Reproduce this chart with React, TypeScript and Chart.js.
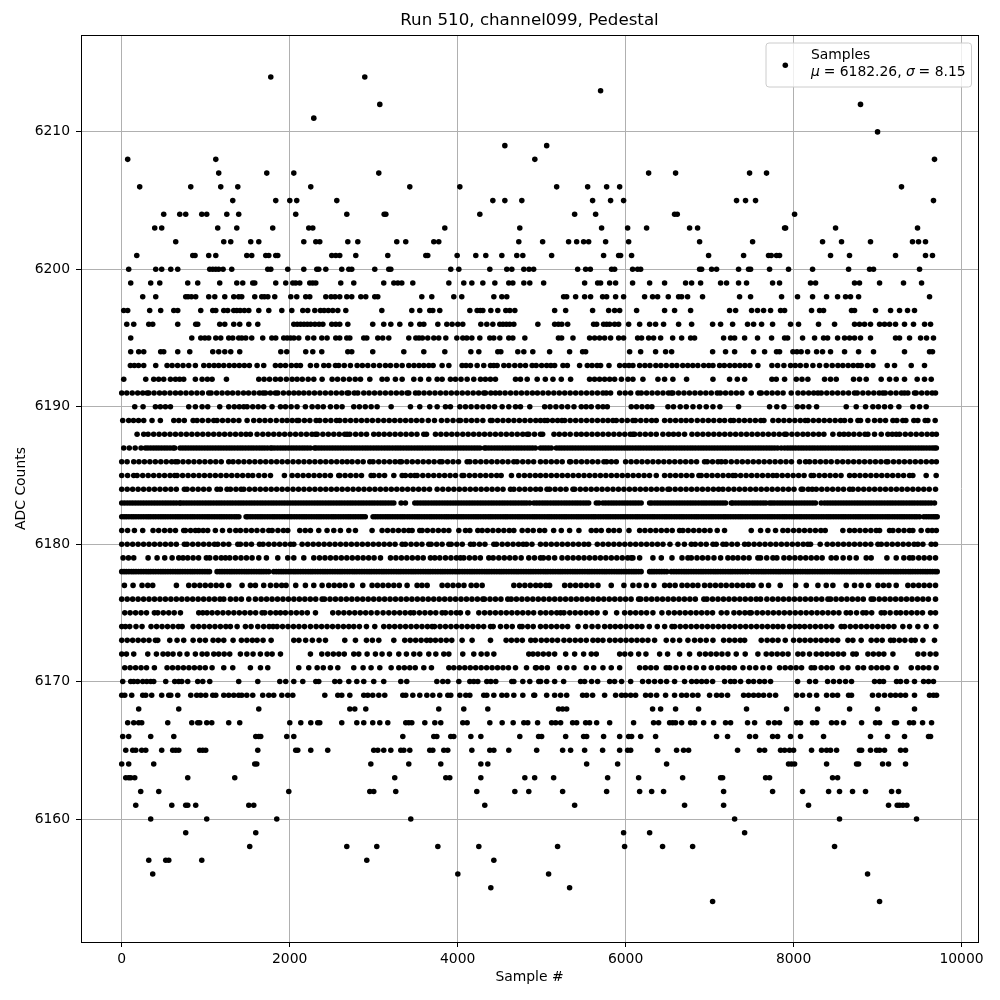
import React, { useEffect, useRef } from "react";
import { Chart, registerables } from "chart.js";

Chart.register(...registerables);

const chartTitle = "Run 510, channel099, Pedestal";
const xLabel = "Sample #";
const yLabel = "ADC Counts";
const legendName = "Samples";
const xTickValues = [0, 2000, 4000, 6000, 8000, 10000];
const yTickValues = [6160, 6170, 6180, 6190, 6200, 6210];

const adc6214 = [1775, 2894];
const adc6213 = [5702];
const adc6212 = [3073, 8797];
const adc6211 = [2287];
const adc6210 = [9000];
const adc6209 = [4562, 5060];
const adc6208 = [71, 1120, 4919, 9678];
const adc6207 = [1155, 1727, 2049, 3061, 6274, 6595, 7476, 7678];
const adc6206 = [214, 822, 1179, 1382, 2251, 3430, 4026, 5179, 5548, 5774, 5929, 9285];
const adc6205 = [1322, 1834, 2001, 2084, 2561, 4419, 4562, 4764, 5607, 5821, 5976, 7321, 7428, 7547, 9666];
const adc6204 = [500, 691, 762, 953, 1012, 1251, 1393, 2072, 2680, 3125, 3145, 4264, 5393, 5643, 6583, 6615, 8012];
const adc6203 = [393, 476, 1143, 1370, 1798, 2227, 2275, 3847, 4740, 5714, 6024, 6250, 6762, 6857, 7893, 7905, 8500, 9476];
const adc6202 = [643, 1215, 1298, 1536, 1632, 2168, 2311, 2358, 2692, 2811, 3275, 3382, 3716, 3775, 4728, 5012, 5321, 5417, 5500, 5560, 5762, 6036, 6881, 7512, 8345, 8571, 8916, 9416, 9488, 9571];
const adc6201 = [179, 846, 873, 1036, 1120, 1489, 1548, 1715, 1751, 1834, 1858, 2501, 2549, 2596, 2787, 3168, 3621, 3644, 3994, 4216, 4335, 4526, 4704, 4776, 5119, 5738, 5917, 5940, 6071, 6988, 7405, 7702, 7734, 7797, 7833, 8440, 8666, 9214, 9571, 9654];
const adc6200 = [83, 405, 476, 584, 667, 1048, 1084, 1120, 1155, 1207, 1310, 1739, 1775, 1977, 2168, 2323, 2346, 2430, 2620, 2704, 2739, 3013, 3180, 3204, 3918, 4014, 4383, 4585, 4645, 4788, 4850, 4905, 5429, 5524, 5580, 5833, 5869, 6083, 6143, 6179, 6881, 6905, 7024, 7083, 7345, 7464, 7488, 7714, 7940, 8226, 8655, 8905, 8952, 9500];
const adc6199 = [107, 345, 453, 786, 905, 1167, 1370, 1441, 1560, 1584, 1834, 1953, 2037, 2072, 2120, 2239, 2275, 2311, 2608, 2763, 3120, 3240, 3288, 3335, 3466, 3895, 4073, 4169, 4300, 4443, 4609, 4657, 4788, 4859, 5024, 5512, 5667, 5702, 5810, 5881, 6083, 6286, 6464, 6714, 6786, 6893, 7131, 7202, 7345, 7440, 7750, 7833, 8202, 8262, 8726, 8785, 9024, 9309, 9524];
const adc6198 = [250, 405, 762, 790, 830, 881, 1036, 1108, 1227, 1334, 1393, 1429, 1584, 1667, 1700, 1740, 1822, 2013, 2084, 2191, 2239, 2430, 2493, 2540, 2596, 2680, 2739, 2847, 2906, 3013, 3049, 3573, 3692, 3954, 4049, 4431, 4526, 4585, 5262, 5298, 5405, 5512, 5583, 5726, 5774, 5881, 5976, 6226, 6321, 6381, 6508, 6631, 6667, 6738, 6916, 7357, 7488, 7857, 8047, 8226, 8393, 8524, 8619, 8678, 8774, 9619];
const adc6197 = [24, 71, 333, 464, 620, 667, 941, 1084, 1120, 1215, 1262, 1334, 1370, 1410, 1460, 1513, 1632, 1751, 1906, 2025, 2156, 2215, 2299, 2366, 2410, 2460, 2513, 2573, 2668, 3097, 3454, 3549, 3668, 3704, 3787, 4145, 4232, 4270, 4300, 4395, 4478, 4573, 4621, 4681, 5155, 5286, 5607, 5798, 5869, 5929, 6131, 6464, 6583, 6774, 7238, 7310, 7500, 7571, 7643, 7726, 7845, 7893, 8214, 8310, 8357, 8690, 8726, 8976, 9155, 9262, 9357, 9440];
const adc6196 = [60, 143, 322, 369, 667, 881, 905, 1167, 1227, 1334, 1405, 1513, 1620, 2049, 2090, 2130, 2170, 2210, 2250, 2300, 2350, 2395, 2501, 2549, 2596, 2692, 2989, 3120, 3204, 3311, 3442, 3549, 3597, 3764, 3871, 3934, 4002, 4061, 4276, 4347, 4419, 4502, 4540, 4580, 4620, 4669, 4955, 5155, 5200, 5240, 5310, 5619, 5655, 5738, 5774, 5810, 5869, 5917, 6036, 6167, 6286, 6357, 6452, 6631, 6786, 7036, 7131, 7274, 7452, 7524, 7619, 7750, 7964, 8059, 8297, 8488, 8726, 8785, 8845, 8916, 9024, 9083, 9143, 9214, 9321, 9428, 9560, 9631];
const adc6195 = [107, 834, 941, 990, 1036, 1120, 1179, 1274, 1322, 1393, 1430, 1477, 1548, 1679, 1787, 1834, 1929, 1970, 2010, 2050, 2108, 2215, 2287, 2382, 2445, 2549, 2596, 2680, 2716, 2882, 2918, 3049, 3108, 3180, 3418, 3502, 3540, 3580, 3644, 3716, 3775, 3859, 3990, 4061, 4109, 4169, 4264, 4383, 4430, 4502, 4609, 4657, 4800, 5200, 5238, 5373, 5571, 5631, 5690, 5750, 5821, 5917, 5976, 6143, 6190, 6274, 6333, 6417, 6560, 6667, 6774, 6821, 7167, 7250, 7298, 7417, 7571, 7738, 7893, 7929, 8107, 8250, 8357, 8405, 8524, 8607, 8667, 8726, 8797, 8916, 9214, 9262, 9381, 9512, 9583, 9666];
const adc6194 = [107, 202, 262, 464, 500, 667, 810, 1084, 1155, 1227, 1298, 1405, 1894, 1965, 2191, 2275, 2382, 2692, 2739, 2989, 3359, 3597, 3847, 4157, 4252, 4478, 4514, 4716, 4788, 4895, 5095, 5333, 5488, 5524, 6048, 6179, 6357, 6476, 6548, 7036, 7190, 7298, 7524, 7655, 7797, 7833, 7992, 8040, 8090, 8167, 8274, 8345, 8440, 8607, 8774, 8952, 9321, 9619, 9654];
const adc6193 = [103, 150, 200, 262, 405, 540, 600, 665, 730, 798, 877, 977, 1040, 1100, 1155, 1215, 1280, 1340, 1400, 1460, 1520, 1612, 1691, 1830, 1890, 1950, 2020, 2080, 2128, 2247, 2320, 2406, 2465, 2545, 2584, 2650, 2723, 2803, 2865, 2930, 3000, 3070, 3140, 3200, 3270, 3339, 3418, 3480, 3540, 3597, 3656, 3708, 3815, 3895, 4053, 4100, 4153, 4232, 4311, 4391, 4430, 4470, 4550, 4610, 4680, 4745, 4808, 4887, 4935, 5000, 5060, 5110, 5155, 5254, 5306, 5452, 5544, 5600, 5660, 5702, 5802, 5929, 5990, 6040, 6087, 6167, 6230, 6290, 6360, 6420, 6484, 6552, 6610, 6680, 6740, 6800, 6860, 6930, 6990, 7040, 7119, 7175, 7240, 7300, 7360, 7420, 7480, 7575, 7742, 7810, 7885, 7964, 8020, 8080, 8150, 8230, 8309, 8389, 8460, 8528, 8587, 8650, 8710, 8766, 8805, 8880, 8944, 9115, 9202, 9401, 9559];
const adc6192 = [24, 286, 381, 440, 500, 580, 640, 690, 738, 877, 957, 1020, 1076, 1247, 1632, 1695, 1760, 1830, 1890, 1960, 2029, 2088, 2150, 2220, 2287, 2386, 2505, 2570, 2640, 2710, 2780, 2843, 2954, 3100, 3160, 3259, 3339, 3478, 3557, 3656, 3756, 3815, 3914, 3974, 4040, 4113, 4192, 4272, 4330, 4390, 4450, 4689, 4748, 4828, 4947, 5044, 5135, 5234, 5345, 5571, 5630, 5690, 5750, 5810, 5869, 5950, 6028, 6087, 6206, 6385, 6464, 6563, 6726, 7040, 7238, 7330, 7417, 7742, 7794, 7893, 8032, 8100, 8170, 8369, 8440, 8508, 8714, 8785, 8865, 9043, 9143, 9222, 9321, 9472, 9559, 9639];
const adc6191 = [0, 60, 125, 190, 250, 302, 322, 385, 450, 510, 575, 640, 700, 765, 830, 895, 960, 1036, 1064, 1130, 1195, 1260, 1320, 1385, 1450, 1510, 1575, 1640, 1683, 1711, 1770, 1830, 1858, 1925, 1990, 2050, 2108, 2168, 2230, 2295, 2360, 2425, 2490, 2555, 2620, 2684, 2704, 2770, 2811, 2882, 2945, 3010, 3075, 3140, 3205, 3270, 3335, 3398, 3418, 3498, 3537, 3600, 3665, 3730, 3795, 3860, 3925, 3990, 4055, 4120, 4185, 4250, 4311, 4331, 4395, 4450, 4502, 4565, 4630, 4695, 4760, 4825, 4890, 4950, 5015, 5080, 5145, 5210, 5275, 5340, 5405, 5470, 5535, 5600, 5665, 5730, 5770, 5821, 5929, 5995, 6060, 6147, 6186, 6250, 6315, 6380, 6445, 6510, 6544, 6563, 6630, 6695, 6760, 6825, 6890, 6955, 7020, 7091, 7127, 7190, 7255, 7320, 7385, 7496, 7595, 7615, 7680, 7745, 7810, 7875, 7972, 8052, 8115, 8180, 8240, 8290, 8329, 8395, 8460, 8525, 8590, 8655, 8726, 8758, 8825, 8890, 8955, 9020, 9063, 9091, 9155, 9220, 9285, 9321, 9361, 9440, 9460, 9525, 9590, 9650, 9690];
const adc6190 = [155, 254, 401, 460, 520, 580, 798, 877, 957, 1024, 1167, 1274, 1340, 1400, 1453, 1493, 1560, 1625, 1690, 1790, 1890, 1950, 2017, 2088, 2187, 2267, 2335, 2400, 2485, 2557, 2624, 2763, 2830, 2900, 2970, 3041, 3208, 3438, 3549, 3668, 3756, 3855, 3914, 4026, 4093, 4160, 4230, 4300, 4370, 4440, 4530, 4609, 4689, 4748, 4859, 5036, 5100, 5170, 5240, 5310, 5385, 5472, 5530, 5591, 5671, 5730, 5782, 6067, 6130, 6195, 6260, 6313, 6504, 6570, 6650, 6722, 6802, 6880, 6960, 7040, 7123, 7345, 7714, 7800, 7885, 8044, 8110, 8182, 8274, 8627, 8746, 8857, 8944, 9010, 9083, 9155, 9254, 9420, 9500, 9579];
const adc6189 = [12, 83, 140, 200, 262, 361, 460, 620, 680, 745, 850, 897, 960, 1030, 1096, 1135, 1200, 1265, 1330, 1395, 1493, 1572, 1640, 1705, 1770, 1840, 1910, 1969, 2030, 2088, 2108, 2175, 2240, 2315, 2358, 2425, 2490, 2557, 2596, 2660, 2725, 2790, 2855, 2920, 2985, 3053, 3120, 3185, 3250, 3315, 3380, 3445, 3510, 3575, 3650, 3724, 3807, 3875, 3945, 4014, 4033, 4100, 4165, 4230, 4300, 4391, 4411, 4475, 4540, 4605, 4670, 4735, 4800, 4865, 4930, 4986, 5036, 5068, 5130, 5190, 5242, 5274, 5340, 5405, 5470, 5535, 5600, 5665, 5730, 5790, 5849, 5889, 5955, 6020, 6087, 6115, 6180, 6245, 6310, 6365, 6464, 6530, 6595, 6660, 6720, 6782, 6853, 6920, 6985, 7050, 7119, 7179, 7250, 7286, 7350, 7415, 7480, 7545, 7610, 7647, 7754, 7820, 7885, 7950, 8015, 8080, 8139, 8170, 8235, 8300, 8365, 8430, 8495, 8560, 8607, 8678, 8766, 8797, 8885, 8964, 9030, 9095, 9183, 9230, 9301, 9337, 9432, 9480, 9567, 9599, 9686];
const adc6188 = [183, 262, 314, 380, 445, 510, 575, 640, 705, 770, 835, 900, 965, 1030, 1095, 1160, 1225, 1290, 1355, 1420, 1480, 1532, 1612, 1680, 1745, 1810, 1875, 1940, 2005, 2070, 2135, 2200, 2265, 2307, 2327, 2395, 2460, 2525, 2590, 2655, 2684, 2716, 2785, 2850, 2915, 3001, 3061, 3125, 3190, 3255, 3320, 3385, 3450, 3515, 3597, 3629, 3736, 3800, 3865, 3930, 3994, 4061, 4125, 4190, 4255, 4320, 4385, 4450, 4515, 4580, 4645, 4710, 4775, 4828, 4847, 4915, 4986, 5012, 5147, 5210, 5275, 5340, 5413, 5472, 5535, 5600, 5665, 5730, 5795, 5860, 5925, 5990, 6055, 6087, 6107, 6170, 6235, 6300, 6365, 6444, 6512, 6570, 6631, 6702, 6790, 6855, 6920, 6985, 7050, 7115, 7180, 7245, 7310, 7375, 7440, 7505, 7570, 7635, 7700, 7765, 7830, 7893, 7913, 7980, 8045, 8111, 8170, 8235, 8300, 8361, 8468, 8547, 8600, 8655, 8718, 8785, 8850, 8885, 8964, 9044, 9123, 9175, 9222, 9262, 9330, 9395, 9460, 9525, 9590, 9650, 9700];
const adc6187 = [24, 90, 160, 230, 282, 345, 410, 475, 540, 611, 631, 695, 760, 825, 890, 955, 1020, 1085, 1150, 1215, 1280, 1345, 1410, 1475, 1540, 1605, 1670, 1735, 1771, 1791, 1855, 1920, 1985, 2050, 2115, 2180, 2245, 2295, 2315, 2380, 2445, 2510, 2575, 2640, 2705, 2770, 2835, 2900, 2965, 3030, 3095, 3160, 3225, 3290, 3355, 3420, 3485, 3550, 3615, 3680, 3745, 3810, 3875, 3940, 4005, 4070, 4135, 4200, 4265, 4319, 4339, 4405, 4470, 4535, 4600, 4665, 4730, 4795, 4860, 4925, 4986, 5050, 5115, 5175, 5240, 5305, 5370, 5435, 5500, 5565, 5630, 5695, 5760, 5825, 5890, 5955, 6020, 6085, 6150, 6215, 6280, 6345, 6410, 6475, 6540, 6605, 6670, 6735, 6800, 6865, 6930, 6995, 7060, 7125, 7190, 7255, 7320, 7385, 7450, 7515, 7580, 7645, 7710, 7775, 7853, 7893, 7960, 8025, 8090, 8155, 8220, 8285, 8350, 8415, 8480, 8545, 8610, 8675, 8740, 8805, 8870, 8935, 9000, 9065, 9130, 9195, 9260, 9325, 9390, 9455, 9520, 9585, 9650, 9700];
const adc6187more = [312, 378, 442, 508, 575, 728, 792, 858, 922, 988, 1052, 1118, 1182, 1248, 1312, 1378, 1442, 1508, 1572, 1638, 1702, 1822, 1888, 1952, 2018, 2082, 2148, 2212, 2348, 2412, 2478, 2542, 2608, 2672, 2738, 2802, 2868, 2932, 2998, 3062, 3128, 3192, 3258, 3322, 3388, 3452, 3518, 3582, 3648, 3712, 3778, 3842, 3908, 3972, 4038, 4102, 4168, 4232, 4372, 4438, 4502, 4568, 4632, 4698, 4762, 4828, 4892, 5018, 5082, 5208, 5272, 5338, 5402, 5468, 5532, 5598, 5662, 5728, 5792, 5858, 5922, 5988, 6052, 6118, 6182, 6248, 6312, 6378, 6442, 6508, 6572, 6638, 6702, 6768, 6832, 6898, 6962, 7028, 7092, 7158, 7222, 7288, 7352, 7418, 7482, 7548, 7612, 7678, 7742, 7810, 7928, 7992, 8058, 8122, 8188, 8252, 8318, 8382, 8448, 8512, 8578, 8642, 8708, 8772, 8838, 8902, 8968, 9032, 9098, 9162, 9228, 9292, 9358, 9422, 9488, 9552, 9618, 9678];
const adc6186 = [0, 64, 143, 205, 270, 335, 400, 465, 530, 595, 639, 667, 730, 795, 860, 925, 990, 1055, 1120, 1185, 1274, 1326, 1390, 1455, 1520, 1585, 1650, 1715, 1780, 1845, 1910, 1975, 2040, 2105, 2170, 2235, 2300, 2365, 2430, 2495, 2560, 2625, 2684, 2743, 2810, 2875, 2954, 2993, 3060, 3125, 3190, 3255, 3311, 3331, 3395, 3460, 3525, 3590, 3655, 3720, 3787, 3815, 3880, 3945, 4010, 4113, 4145, 4210, 4275, 4340, 4405, 4470, 4535, 4600, 4669, 4708, 4775, 4840, 4905, 4986, 5050, 5115, 5180, 5245, 5333, 5345, 5410, 5475, 5540, 5605, 5670, 5742, 5774, 5830, 5889, 6000, 6065, 6130, 6195, 6260, 6325, 6390, 6455, 6520, 6585, 6650, 6715, 6780, 6845, 6940, 6972, 7035, 7100, 7139, 7190, 7258, 7325, 7390, 7455, 7520, 7585, 7650, 7715, 7780, 7845, 7910, 7975, 8071, 8143, 8190, 8255, 8320, 8385, 8448, 8520, 8585, 8650, 8715, 8780, 8845, 8910, 8975, 9040, 9103, 9123, 9190, 9255, 9320, 9385, 9450, 9515, 9580, 9645, 9700];
const adc6185 = [0, 70, 143, 183, 250, 315, 380, 445, 510, 575, 631, 659, 725, 790, 855, 920, 985, 1050, 1115, 1180, 1245, 1310, 1375, 1440, 1505, 1560, 1632, 1700, 1771, 1937, 2029, 2095, 2160, 2225, 2290, 2355, 2420, 2485, 2584, 2596, 2660, 2725, 2790, 2855, 2970, 3001, 3065, 3130, 3240, 3339, 3378, 3440, 3490, 3517, 3585, 3650, 3715, 3780, 3845, 3910, 3975, 4053, 4073, 4140, 4205, 4270, 4335, 4400, 4465, 4518, 4641, 4728, 4795, 4860, 4925, 4986, 5050, 5115, 5180, 5245, 5310, 5375, 5440, 5505, 5570, 5635, 5700, 5765, 5830, 5895, 5960, 6025, 6090, 6155, 6220, 6285, 6365, 6464, 6530, 6595, 6660, 6725, 6790, 6873, 6900, 6965, 7030, 7095, 7160, 7225, 7278, 7306, 7370, 7435, 7500, 7565, 7630, 7695, 7754, 7801, 7865, 7930, 7995, 8060, 8125, 8210, 8238, 8305, 8370, 8435, 8500, 8565, 8667, 8726, 8790, 8855, 8920, 8985, 9050, 9115, 9180, 9245, 9310, 9381, 9420, 9579, 9698];
const adc6184 = [0, 65, 130, 195, 260, 325, 390, 455, 520, 585, 650, 746, 778, 845, 910, 975, 1040, 1135, 1175, 1254, 1294, 1360, 1421, 1453, 1520, 1585, 1650, 1715, 1780, 1845, 1910, 1975, 2040, 2105, 2170, 2235, 2300, 2365, 2430, 2495, 2560, 2625, 2690, 2755, 2820, 2885, 2950, 3015, 3080, 3145, 3210, 3275, 3340, 3405, 3470, 3535, 3600, 3665, 3756, 3823, 3890, 3955, 4020, 4085, 4150, 4215, 4280, 4345, 4410, 4475, 4540, 4629, 4669, 4735, 4800, 4865, 4930, 4986, 5064, 5095, 5160, 5225, 5290, 5373, 5393, 5460, 5525, 5590, 5655, 5720, 5785, 5850, 5915, 5980, 6045, 6110, 6175, 6240, 6305, 6370, 6435, 6504, 6524, 6590, 6655, 6720, 6785, 6850, 6915, 6980, 7045, 7107, 7159, 7225, 7290, 7355, 7420, 7485, 7550, 7615, 7680, 7745, 7810, 7875, 7940, 8005, 8091, 8111, 8175, 8222, 8270, 8335, 8400, 8465, 8530, 8595, 8667, 8706, 8770, 8835, 8900, 8965, 9030, 9095, 9160, 9225, 9290, 9355, 9420, 9485, 9550, 9615, 9690];
const adc6183 = [0, 65, 130, 195, 260, 325, 390, 455, 520, 585, 650, 687, 706, 770, 835, 900, 965, 1030, 1095, 1160, 1225, 1290, 1355, 1420, 1485, 1550, 1615, 1680, 1745, 1810, 1875, 1940, 2005, 2070, 2135, 2200, 2265, 2330, 2395, 2460, 2525, 2590, 2655, 2720, 2785, 2850, 2915, 2980, 3045, 3110, 3175, 3240, 3327, 3378, 3490, 3555, 3620, 3685, 3750, 3815, 3880, 3945, 4010, 4075, 4140, 4205, 4270, 4335, 4400, 4465, 4530, 4595, 4660, 4725, 4790, 4859, 4909, 4975, 5040, 5105, 5170, 5235, 5300, 5365, 5430, 5495, 5560, 5651, 5683, 5730, 5795, 5860, 5925, 5990, 6055, 6120, 6185, 6286, 6313, 6380, 6445, 6510, 6575, 6640, 6705, 6770, 6835, 6901, 6932, 6995, 7060, 7125, 7190, 7258, 7278, 7345, 7410, 7475, 7540, 7605, 7670, 7714, 7742, 7805, 7870, 7935, 8000, 8065, 8130, 8195, 8260, 8329, 8369, 8435, 8500, 8565, 8630, 8695, 8760, 8825, 8890, 8955, 9020, 9085, 9150, 9215, 9280, 9345, 9410, 9475, 9540, 9605, 9678];
const adc6183more = [32, 98, 162, 228, 292, 358, 422, 488, 552, 618, 738, 802, 868, 932, 998, 1062, 1128, 1192, 1258, 1322, 1388, 1452, 1518, 1582, 1648, 1712, 1778, 1842, 1908, 1972, 2038, 2102, 2168, 2232, 2298, 2362, 2428, 2492, 2558, 2622, 2688, 2752, 2818, 2882, 2948, 3012, 3078, 3142, 3208, 3522, 3588, 3652, 3718, 3782, 3848, 3912, 3978, 4042, 4108, 4172, 4238, 4302, 4368, 4432, 4498, 4562, 4628, 4692, 4758, 4822, 4942, 5008, 5072, 5138, 5202, 5268, 5332, 5398, 5462, 5528, 5762, 5828, 5892, 5958, 6022, 6088, 6152, 6348, 6412, 6478, 6542, 6608, 6672, 6738, 6802, 6868, 6962, 7028, 7092, 7158, 7312, 7378, 7442, 7508, 7572, 7638, 7772, 7838, 7902, 7968, 8032, 8098, 8162, 8228, 8402, 8468, 8532, 8598, 8662, 8728, 8792, 8858, 8922, 8988, 9052, 9118, 9182, 9248, 9312, 9378, 9442, 9508, 9572, 9638];
const adc6182 = [0, 55, 115, 170, 230, 290, 345, 405, 465, 520, 580, 640, 695, 755, 815, 870, 930, 990, 1045, 1105, 1165, 1220, 1280, 1340, 1395, 1481, 1501, 1560, 1620, 1675, 1735, 1795, 1850, 1910, 1970, 2025, 2085, 2145, 2200, 2260, 2320, 2375, 2435, 2495, 2550, 2610, 2670, 2725, 2785, 2845, 2900, 2993, 3021, 3080, 3140, 3195, 3255, 3315, 3370, 3430, 3490, 3545, 3605, 3665, 3720, 3780, 3840, 3895, 3955, 4015, 4070, 4130, 4190, 4245, 4305, 4365, 4420, 4480, 4540, 4595, 4655, 4715, 4770, 4830, 4890, 4945, 5005, 5065, 5120, 5180, 5240, 5295, 5355, 5415, 5470, 5530, 5590, 5645, 5705, 5765, 5820, 5880, 5940, 5995, 6055, 6115, 6170, 6230, 6290, 6345, 6405, 6465, 6520, 6580, 6640, 6695, 6755, 6815, 6870, 6930, 6990, 7045, 7105, 7165, 7220, 7280, 7340, 7395, 7455, 7515, 7570, 7630, 7690, 7745, 7805, 7865, 7920, 7980, 8040, 8095, 8155, 8215, 8270, 8330, 8390, 8445, 8505, 8565, 8620, 8680, 8740, 8795, 8855, 8915, 8970, 9030, 9090, 9145, 9205, 9265, 9320, 9380, 9440, 9500, 9551, 9610, 9665, 9710];
const adc6182more = [28, 85, 142, 200, 260, 318, 375, 435, 492, 550, 610, 668, 725, 785, 842, 900, 960, 1018, 1075, 1135, 1192, 1250, 1310, 1368, 1530, 1590, 1648, 1705, 1765, 1822, 1880, 1940, 1998, 2055, 2115, 2172, 2230, 2290, 2348, 2405, 2465, 2522, 2580, 2640, 2698, 2755, 2815, 2872, 3050, 3110, 3168, 3225, 3285, 3342, 3400, 3460, 3518, 3575, 3635, 3692, 3750, 3810, 3868, 3925, 3985, 4042, 4100, 4160, 4218, 4275, 4335, 4392, 4450, 4510, 4568, 4625, 4685, 4742, 4800, 4860, 4918, 4975, 5035, 5092, 5150, 5210, 5268, 5325, 5385, 5442, 5500, 5560, 5618, 5675, 5735, 5792, 5850, 5910, 5968, 6025, 6085, 6142, 6200, 6260, 6318, 6375, 6435, 6492, 6550, 6610, 6668, 6725, 6785, 6842, 6900, 6960, 7018, 7075, 7135, 7192, 7250, 7310, 7368, 7425, 7485, 7542, 7600, 7660, 7718, 7775, 7835, 7892, 7950, 8010, 8068, 8125, 8185, 8242, 8300, 8360, 8418, 8475, 8535, 8592, 8650, 8710, 8768, 8825, 8885, 8942, 9000, 9060, 9118, 9175, 9235, 9292, 9350, 9410, 9468, 9580, 9638, 9688];
const adc6181 = [0, 70, 151, 250, 373, 440, 510, 575, 640, 738, 758, 820, 877, 917, 970, 1024, 1115, 1200, 1286, 1358, 1413, 1480, 1545, 1610, 1680, 1751, 1791, 1860, 1925, 1977, 2120, 2185, 2247, 2346, 2445, 2525, 2604, 2704, 2783, 2981, 3100, 3165, 3230, 3295, 3360, 3418, 3458, 3549, 3577, 3640, 3705, 3770, 3835, 3895, 4014, 4093, 4145, 4240, 4292, 4355, 4420, 4485, 4550, 4615, 4669, 4768, 4835, 4900, 4976, 5036, 5143, 5234, 5333, 5444, 5591, 5650, 5710, 5798, 5860, 5925, 6040, 6167, 6230, 6295, 6360, 6425, 6490, 6555, 6643, 6682, 6745, 6810, 6875, 6940, 7005, 7091, 7178, 7496, 7607, 7694, 7785, 7873, 7932, 8000, 8065, 8130, 8195, 8260, 8325, 8377, 8587, 8667, 8726, 8790, 8855, 8920, 8984, 9024, 9143, 9183, 9250, 9315, 9380, 9420, 9519, 9599, 9650, 9700];
const adc6180 = [0, 65, 130, 195, 260, 325, 390, 455, 520, 585, 650, 746, 778, 845, 910, 975, 1040, 1104, 1143, 1210, 1275, 1382, 1413, 1480, 1545, 1640, 1683, 1750, 1815, 1880, 1945, 2009, 2049, 2148, 2215, 2280, 2345, 2410, 2475, 2540, 2605, 2670, 2735, 2800, 2865, 2930, 2995, 3060, 3125, 3190, 3255, 3339, 3378, 3445, 3510, 3575, 3656, 3684, 3750, 3815, 3895, 3923, 3990, 4055, 4153, 4192, 4260, 4325, 4431, 4462, 4530, 4595, 4660, 4725, 4780, 4820, 4885, 4986, 5050, 5115, 5180, 5245, 5310, 5375, 5440, 5505, 5560, 5663, 5730, 5795, 5860, 5925, 5990, 6055, 6120, 6185, 6250, 6315, 6380, 6445, 6528, 6623, 6700, 6782, 6829, 6895, 6960, 7040, 7079, 7159, 7198, 7265, 7330, 7417, 7464, 7530, 7595, 7660, 7725, 7790, 7855, 7920, 7985, 8050, 8115, 8170, 8202, 8317, 8400, 8465, 8530, 8595, 8660, 8725, 8790, 8855, 8920, 9004, 9044, 9110, 9175, 9240, 9305, 9370, 9435, 9480, 9540, 9639, 9690];
const adc6179 = [16, 80, 143, 314, 421, 512, 600, 679, 730, 786, 850, 915, 1008, 1048, 1120, 1185, 1235, 1286, 1354, 1420, 1485, 1552, 1632, 1723, 1858, 1977, 2049, 2168, 2287, 2355, 2420, 2485, 2550, 2615, 2680, 2745, 2810, 2875, 2940, 3005, 3081, 3200, 3265, 3330, 3395, 3460, 3525, 3590, 3676, 3728, 3787, 3855, 3920, 3985, 4033, 4073, 4140, 4205, 4270, 4371, 4423, 4490, 4555, 4620, 4685, 4756, 4847, 4915, 4986, 5020, 5083, 5155, 5242, 5310, 5375, 5440, 5505, 5570, 5635, 5700, 5765, 5830, 5895, 5960, 6025, 6067, 6087, 6167, 6325, 6425, 6552, 6671, 6742, 6782, 6850, 6915, 6980, 7052, 7131, 7218, 7278, 7337, 7405, 7470, 7575, 7607, 7680, 7754, 7801, 7885, 7950, 8015, 8080, 8145, 8210, 8275, 8340, 8448, 8508, 8590, 8667, 8746, 8865, 8924, 9111, 9222, 9313, 9381, 9420, 9490, 9555, 9620, 9690];
const adc6178 = [0, 55, 115, 170, 230, 290, 345, 405, 465, 520, 580, 640, 695, 755, 815, 870, 930, 990, 1045, 1135, 1167, 1225, 1285, 1340, 1400, 1460, 1515, 1575, 1635, 1690, 1751, 1810, 1870, 1925, 1985, 2045, 2100, 2160, 2220, 2275, 2335, 2395, 2450, 2510, 2570, 2625, 2685, 2745, 2800, 2860, 2920, 2975, 3035, 3095, 3150, 3210, 3270, 3325, 3385, 3445, 3500, 3560, 3620, 3675, 3735, 3795, 3850, 3910, 3970, 4025, 4085, 4145, 4200, 4260, 4320, 4375, 4435, 4495, 4550, 4610, 4670, 4725, 4785, 4845, 4900, 4960, 5020, 5075, 5135, 5195, 5250, 5310, 5370, 5425, 5485, 5545, 5600, 5660, 5720, 5775, 5835, 5895, 5950, 6010, 6070, 6125, 6185, 6286, 6313, 6370, 6430, 6490, 6544, 6575, 6635, 6695, 6750, 6810, 6870, 6925, 6985, 7045, 7100, 7160, 7220, 7275, 7335, 7395, 7456, 7496, 7555, 7615, 7670, 7730, 7790, 7845, 7905, 7965, 8020, 8080, 8140, 8195, 8255, 8315, 8370, 8430, 8490, 8545, 8605, 8665, 8720, 8780, 8840, 8895, 8955, 9015, 9070, 9130, 9190, 9245, 9305, 9365, 9420, 9480, 9540, 9595, 9655, 9710];
const adc6178more = [28, 85, 142, 200, 260, 318, 375, 435, 492, 550, 610, 668, 725, 785, 842, 900, 960, 1018, 1195, 1255, 1312, 1370, 1430, 1488, 1545, 1605, 1662, 1720, 1840, 1898, 1955, 2015, 2072, 2130, 2190, 2248, 2305, 2365, 2422, 2480, 2540, 2598, 2655, 2715, 2772, 2830, 2890, 2948, 3005, 3065, 3122, 3180, 3240, 3298, 3355, 3415, 3472, 3530, 3590, 3648, 3705, 3765, 3822, 3880, 3940, 3998, 4055, 4115, 4172, 4230, 4290, 4348, 4405, 4465, 4522, 4580, 4640, 4698, 4755, 4815, 4872, 4930, 4990, 5048, 5105, 5165, 5222, 5280, 5340, 5398, 5455, 5515, 5572, 5630, 5690, 5748, 5805, 5865, 5922, 5980, 6040, 6098, 6155, 6340, 6400, 6460, 6605, 6665, 6722, 6780, 6840, 6898, 6955, 7015, 7072, 7130, 7190, 7248, 7305, 7365, 7425, 7525, 7585, 7642, 7700, 7760, 7818, 7875, 7935, 7992, 8050, 8110, 8168, 8225, 8285, 8342, 8400, 8460, 8518, 8575, 8635, 8692, 8750, 8810, 8868, 8925, 8985, 9042, 9100, 9160, 9218, 9275, 9335, 9392, 9450, 9510, 9568, 9625, 9685];
const adc6177 = [32, 135, 242, 310, 369, 651, 798, 865, 930, 995, 1060, 1125, 1190, 1274, 1433, 1532, 1592, 1691, 1771, 1840, 1905, 1957, 2072, 2187, 2287, 2386, 2465, 2530, 2595, 2660, 2743, 2870, 2981, 3045, 3110, 3175, 3240, 3305, 3398, 3517, 3575, 3637, 3815, 3880, 3945, 4010, 4075, 4161, 4224, 4292, 4669, 4735, 4800, 4865, 4930, 4986, 5050, 5095, 5274, 5340, 5405, 5470, 5535, 5600, 5671, 5829, 5980, 6087, 6160, 6246, 6337, 6464, 6525, 6590, 6671, 6734, 6800, 6861, 6940, 7005, 7070, 7135, 7198, 7266, 7330, 7395, 7460, 7516, 7615, 7702, 7841, 8024, 8151, 8290, 8389, 8468, 8627, 8726, 8805, 8893, 9004, 9070, 9135, 9222, 9361, 9425, 9490, 9555, 9620, 9690];
const adc6176 = [0, 65, 130, 195, 260, 325, 390, 455, 520, 585, 650, 715, 780, 845, 910, 975, 1040, 1105, 1170, 1215, 1294, 1360, 1425, 1513, 1592, 1660, 1725, 1790, 1855, 1920, 1985, 2050, 2115, 2180, 2245, 2310, 2386, 2414, 2480, 2545, 2610, 2675, 2740, 2805, 2870, 2935, 3000, 3065, 3130, 3195, 3260, 3325, 3390, 3455, 3520, 3585, 3650, 3715, 3780, 3845, 3910, 3975, 4040, 4105, 4170, 4235, 4300, 4319, 4385, 4450, 4515, 4597, 4637, 4700, 4765, 4830, 4895, 4960, 5025, 5090, 5155, 5220, 5285, 5350, 5415, 5480, 5545, 5610, 5675, 5740, 5805, 5870, 5935, 6000, 6065, 6155, 6179, 6245, 6310, 6375, 6440, 6505, 6570, 6635, 6700, 6765, 6830, 6932, 6968, 7035, 7100, 7165, 7230, 7295, 7360, 7425, 7490, 7555, 7607, 7682, 7750, 7815, 7880, 7945, 8010, 8075, 8140, 8205, 8270, 8335, 8409, 8440, 8505, 8570, 8635, 8700, 8765, 8830, 8924, 8952, 9020, 9085, 9150, 9215, 9280, 9345, 9410, 9475, 9540, 9605, 9690];
const adc6175 = [36, 100, 165, 230, 295, 389, 429, 495, 560, 625, 699, 917, 965, 1016, 1076, 1140, 1205, 1270, 1335, 1400, 1465, 1530, 1595, 1671, 1703, 1770, 1835, 1890, 1949, 2015, 2080, 2145, 2210, 2307, 2513, 2580, 2645, 2710, 2775, 2840, 2905, 2970, 3041, 3112, 3180, 3245, 3310, 3375, 3438, 3478, 3545, 3610, 3675, 3740, 3815, 3855, 3920, 3985, 4033, 4121, 4252, 4320, 4385, 4450, 4515, 4580, 4645, 4710, 4775, 4840, 4905, 4986, 5050, 5115, 5180, 5226, 5266, 5335, 5400, 5465, 5530, 5595, 5660, 5758, 5893, 5988, 6055, 6120, 6185, 6250, 6325, 6432, 6512, 6580, 6645, 6710, 6775, 6840, 6905, 6970, 7035, 7139, 7206, 7290, 7355, 7420, 7476, 7496, 7565, 7630, 7695, 7760, 7825, 7890, 7955, 8020, 8085, 8150, 8215, 8280, 8345, 8410, 8475, 8540, 8627, 8678, 8750, 8825, 8865, 8930, 9044, 9083, 9150, 9222, 9274, 9340, 9405, 9470, 9535, 9631, 9690];
const adc6174 = [0, 44, 95, 170, 242, 349, 415, 480, 545, 610, 675, 719, 850, 915, 980, 1045, 1110, 1175, 1240, 1294, 1374, 1473, 1540, 1620, 1690, 1755, 1802, 1850, 1915, 1980, 2045, 2110, 2176, 2247, 2315, 2380, 2445, 2510, 2575, 2640, 2704, 2763, 2830, 2914, 3013, 3120, 3185, 3250, 3315, 3380, 3445, 3510, 3575, 3640, 3696, 3724, 3790, 3855, 3920, 3985, 4050, 4115, 4180, 4245, 4310, 4391, 4423, 4510, 4581, 4650, 4740, 4768, 4835, 4900, 4986, 5050, 5115, 5180, 5245, 5310, 5433, 5524, 5600, 5671, 5750, 5815, 5877, 5940, 6005, 6070, 6135, 6194, 6282, 6377, 6465, 6552, 6583, 6650, 6715, 6780, 6845, 6910, 6975, 7040, 7105, 7170, 7235, 7300, 7365, 7430, 7495, 7560, 7625, 7690, 7755, 7813, 7873, 7952, 8015, 8071, 8131, 8195, 8260, 8325, 8390, 8455, 8567, 8607, 8675, 8740, 8805, 8870, 8935, 9000, 9065, 9130, 9195, 9301, 9381, 9480, 9579, 9695];
const adc6173 = [0, 65, 130, 195, 260, 325, 401, 429, 572, 659, 738, 850, 929, 996, 1088, 1150, 1215, 1326, 1425, 1490, 1555, 1612, 1683, 1779, 2049, 2110, 2190, 2270, 2350, 2426, 2656, 2783, 2914, 2985, 3061, 3240, 3370, 3435, 3500, 3565, 3630, 3676, 3736, 3800, 3865, 3930, 4053, 4172, 4391, 4577, 4640, 4705, 4770, 4871, 4925, 4996, 5060, 5125, 5190, 5266, 5333, 5400, 5465, 5532, 5611, 5670, 5730, 5810, 5875, 5940, 6005, 6070, 6135, 6200, 6266, 6345, 6484, 6563, 6643, 6742, 6821, 6890, 6960, 7040, 7167, 7235, 7300, 7365, 7417, 7615, 7685, 7750, 7815, 7901, 8000, 8071, 8135, 8200, 8265, 8330, 8395, 8460, 8525, 8647, 8706, 8805, 8924, 8990, 9055, 9155, 9194, 9260, 9325, 9401, 9448, 9540, 9678];
const adc6172 = [0, 56, 143, 310, 413, 492, 550, 611, 691, 778, 877, 957, 1016, 1096, 1155, 1220, 1286, 1413, 1490, 1564, 1651, 1731, 1791, 1890, 2247, 2382, 2453, 2520, 2585, 2650, 2763, 2823, 2922, 3021, 3100, 3188, 3299, 3390, 3478, 3549, 3656, 3740, 3835, 3895, 4061, 4192, 4280, 4350, 4431, 4847, 4897, 4956, 5020, 5085, 5155, 5286, 5393, 5500, 5591, 5651, 5929, 5990, 6060, 6155, 6242, 6405, 6500, 6643, 6762, 6881, 6950, 7015, 7080, 7147, 7218, 7317, 7424, 7575, 7674, 7740, 7805, 7870, 7935, 8051, 8111, 8190, 8270, 8335, 8400, 8465, 8530, 8595, 8706, 8746, 8885, 8950, 9015, 9075, 9183, 9480, 9550, 9627, 9695];
const adc6171 = [36, 100, 165, 230, 295, 389, 540, 605, 670, 735, 800, 865, 930, 995, 1076, 1215, 1322, 1532, 1652, 1739, 2108, 2227, 2327, 2400, 2485, 2573, 2763, 2874, 2969, 3073, 3208, 3299, 3365, 3430, 3495, 3597, 3688, 3895, 3954, 4020, 4085, 4150, 4215, 4280, 4345, 4410, 4475, 4540, 4605, 4689, 4820, 4927, 4937, 5000, 5068, 5214, 5300, 5385, 5532, 5620, 5730, 5829, 5929, 6167, 6235, 6300, 6365, 6484, 6524, 6600, 6680, 6762, 6841, 6930, 7020, 7099, 7165, 7230, 7295, 7397, 7476, 7550, 7635, 7714, 7833, 7900, 7965, 8030, 8095, 8210, 8250, 8329, 8395, 8460, 8579, 8647, 8766, 8833, 8924, 8990, 9055, 9120, 9222, 9401, 9480, 9545, 9610, 9698];
const adc6170 = [12, 107, 143, 190, 250, 298, 345, 381, 524, 631, 679, 715, 786, 905, 965, 1048, 1393, 1620, 1882, 1953, 2049, 2156, 2311, 2346, 2537, 2596, 2704, 2799, 2882, 3001, 3120, 3323, 3394, 3752, 3823, 3883, 4014, 4145, 4192, 4240, 4347, 4395, 4454, 4645, 4669, 4776, 4859, 4966, 4988, 5060, 5155, 5262, 5464, 5512, 5595, 5667, 5810, 5869, 5952, 6060, 6202, 6274, 6345, 6417, 6488, 6583, 6702, 6786, 6845, 6905, 6964, 7036, 7179, 7250, 7298, 7369, 7464, 7524, 7595, 7655, 7726, 8048, 8190, 8262, 8405, 8476, 8547, 8619, 8690, 8964, 9024, 9071, 9226, 9274, 9345, 9440, 9548, 9607, 9666];
const adc6169 = [0, 36, 119, 250, 286, 357, 476, 560, 584, 667, 822, 893, 941, 1000, 1084, 1120, 1215, 1274, 1334, 1393, 1429, 1489, 1560, 1679, 1751, 1810, 1906, 1977, 2037, 2418, 2573, 2620, 2716, 2882, 2930, 2989, 3061, 3132, 3347, 3382, 3466, 3549, 3633, 3704, 3787, 3883, 3918, 4026, 4097, 4145, 4311, 4347, 4431, 4526, 4585, 4669, 4776, 4907, 4917, 5060, 5155, 5226, 5298, 5488, 5536, 5607, 5750, 5881, 5952, 6000, 6060, 6119, 6238, 6298, 6369, 6476, 6583, 6667, 6726, 6798, 6861, 7000, 7083, 7143, 7214, 7405, 7464, 7524, 7583, 7643, 7714, 7786, 8036, 8107, 8190, 8274, 8393, 8464, 8524, 8655, 8690, 8940, 9012, 9083, 9155, 9214, 9274, 9333, 9440, 9619, 9666, 9702];
const adc6168 = [202, 679, 1632, 2716, 2775, 2906, 3775, 4073, 4359, 5202, 5250, 5298, 6321, 6417, 6595, 6869, 7440, 7917, 8286, 8667, 9000, 9440];
const adc6167 = [71, 143, 202, 238, 548, 834, 905, 929, 1012, 1072, 1274, 1405, 2001, 2132, 2251, 2334, 2358, 2620, 2799, 2882, 2989, 3073, 3168, 3382, 3418, 3454, 3609, 3728, 3799, 4061, 4113, 4383, 4530, 4661, 4788, 4835, 4952, 5119, 5167, 5226, 5369, 5417, 5524, 5571, 5655, 5810, 6095, 6333, 6393, 6524, 6560, 6595, 6667, 6774, 6821, 6929, 7048, 7190, 7250, 7452, 7536, 7702, 7774, 7833, 8036, 8083, 8226, 8274, 8452, 8512, 8595, 8810, 8976, 9024, 9202, 9226, 9381, 9428, 9536, 9643];
const adc6166 = [12, 83, 345, 620, 1596, 1632, 1655, 1965, 2049, 3347, 3716, 3752, 3918, 3954, 4157, 4276, 4740, 4964, 5000, 5286, 5500, 5536, 5738, 5929, 6036, 6071, 6179, 6357, 7083, 7214, 7476, 7547, 7750, 7810, 7964, 8083, 8357, 8916, 9119, 9321, 9607, 9631];
const adc6165 = [48, 131, 167, 238, 286, 476, 607, 643, 679, 929, 965, 1000, 1620, 2072, 2096, 2251, 2453, 3001, 3049, 3120, 3204, 3323, 3359, 3430, 3668, 3704, 3835, 3882, 4169, 4383, 4431, 4609, 4941, 5250, 5345, 5512, 5726, 5929, 6024, 6060, 6381, 6607, 6690, 6750, 7333, 7595, 7655, 7845, 7893, 7952, 8000, 8214, 8333, 8393, 8440, 8512, 8785, 8810, 8916, 8988, 9024, 9083, 9274, 9333];
const adc6164 = [0, 83, 381, 1584, 1608, 2966, 3418, 3799, 4276, 4359, 5536, 5905, 6488, 7940, 7976, 8012, 8393, 8750, 8774, 9060, 9131, 9333];
const adc6163 = [48, 83, 107, 155, 786, 1346, 3251, 3859, 3906, 4276, 4800, 4917, 5143, 5786, 6155, 6679, 7131, 7155, 7667, 7714, 8464, 8524];
const adc6162 = [226, 441, 1989, 2954, 3001, 3263, 4228, 4681, 4847, 5250, 5774, 6167, 6310, 6452, 7167, 7750, 8107, 8417, 8547, 8702, 8857, 9167, 9250];
const adc6161 = [167, 596, 762, 786, 881, 1513, 1572, 4323, 5393, 6702, 7167, 8178, 9131, 9234, 9262, 9302, 9349];
const adc6160 = [345, 1012, 1846, 3442, 7298, 8547, 9464];
const adc6159 = [762, 1596, 5976, 6286, 7417];
const adc6158 = [1524, 2680, 3037, 3764, 4252, 5190, 5988, 6440, 6798, 8488];
const adc6157 = [322, 524, 560, 953, 2918, 4431];
const adc6156 = [369, 4002, 5083, 8881];
const adc6155 = [4395, 5333];
const adc6154 = [7036, 9024];

const levels: [number, number[]][] = [
  [6214, adc6214], [6213, adc6213], [6212, adc6212], [6211, adc6211], [6210, adc6210], [6209, adc6209],
  [6208, adc6208], [6207, adc6207], [6206, adc6206], [6205, adc6205], [6204, adc6204], [6203, adc6203],
  [6202, adc6202], [6201, adc6201], [6200, adc6200], [6199, adc6199], [6198, adc6198], [6197, adc6197],
  [6196, adc6196], [6195, adc6195], [6194, adc6194], [6193, adc6193], [6192, adc6192], [6191, adc6191],
  [6190, adc6190], [6189, adc6189], [6188, adc6188], [6187, adc6187], [6187, adc6187more], [6186, adc6186], [6185, adc6185],
  [6184, adc6184], [6183, adc6183], [6183, adc6183more], [6182, adc6182], [6182, adc6182more], [6181, adc6181], [6180, adc6180], [6179, adc6179],
  [6178, adc6178], [6178, adc6178more], [6177, adc6177], [6176, adc6176], [6175, adc6175], [6174, adc6174], [6173, adc6173],
  [6172, adc6172], [6171, adc6171], [6170, adc6170], [6169, adc6169], [6168, adc6168], [6167, adc6167],
  [6166, adc6166], [6165, adc6165], [6164, adc6164], [6163, adc6163], [6162, adc6162], [6161, adc6161],
  [6160, adc6160], [6159, adc6159], [6158, adc6158], [6157, adc6157], [6156, adc6156], [6155, adc6155],
  [6154, adc6154],
];

const FONT = '"DejaVu Sans"';
const frameAndLegend = {
  id: "frameAndLegend",
  afterDatasetsDraw(chart: any) {
    const { ctx, chartArea: a } = chart;
    ctx.save();
    ctx.strokeStyle = "#000";
    ctx.lineWidth = 1;
    ctx.strokeRect(Math.round(a.left) + 0.5, Math.round(a.top) + 0.5, Math.round(a.right - a.left), Math.round(a.bottom - a.top));
    const bx = 766, by = 43, bw = 205.5, bh = 44;
    ctx.beginPath();
    ctx.roundRect(bx, by, bw, bh, 3);
    ctx.fillStyle = "rgba(255,255,255,0.8)";
    ctx.fill();
    ctx.strokeStyle = "#cccccc";
    ctx.stroke();
    ctx.fillStyle = "#000";
    ctx.beginPath();
    ctx.arc(785.3, 65.3, 2.78, 0, Math.PI * 2);
    ctx.fill();
    ctx.textBaseline = "alphabetic";
    ctx.textAlign = "left";
    ctx.font = `13.9px ${FONT}`;
    ctx.fillText(legendName, 811, 59);
    let x = 811;
    const parts: [string, boolean][] = [["μ", true], [" = 6182.26, ", false], ["σ", true], [" = 8.15", false]];
    for (const [t, italic] of parts) {
      ctx.font = `${italic ? "italic " : ""}13.9px ${FONT}`;
      ctx.fillText(t, x, 76);
      x += ctx.measureText(t).width - (italic ? 0.6 : 0);
    }
    ctx.restore();
  },
};

export default function App() {
  const ref = useRef<HTMLCanvasElement>(null);
  useEffect(() => {
    document.body.style.margin = "0";
    const chart = new Chart(ref.current!, {
      type: "scatter",
      data: {
        datasets: [{
          label: legendName,
          data: levels.flatMap(([y, xs]) => xs.map((x) => ({ x, y }))),
          backgroundColor: "#000",
          borderWidth: 0,
          pointRadius: 2.78,
          pointHoverRadius: 2.78,
        }],
      },
      options: {
        animation: false,
        responsive: false,
        parsing: false,
        normalized: true,
        layout: { padding: { left: 0, right: 22, top: 0, bottom: 0 } },
        plugins: {
          legend: { display: false },
          tooltip: { enabled: false },
          title: {
            display: true,
            fullSize: false,
            text: chartTitle,
            color: "#000",
            font: { family: FONT, size: 16.67, weight: "normal", lineHeight: 1.2 },
            padding: { top: 11, bottom: 4 },
          },
        },
        scales: {
          x: {
            type: "linear",
            min: -485,
            max: 10196,
            afterFit: (s: any) => { s.height = 58; },
            afterBuildTicks: (s: any) => { s.ticks = xTickValues.map((value) => ({ value })); },
            grid: { color: "#b0b0b0", lineWidth: 1, tickColor: "#000", tickLength: 5 },
            border: { color: "#000" },
            ticks: { color: "#000", maxRotation: 0, autoSkip: false, padding: 4, font: { family: FONT, size: 13.9 }, callback: (v: any) => String(v) },
            title: { display: true, text: xLabel, color: "#000", font: { family: FONT, size: 13.9 }, padding: { top: 0, bottom: 14 } },
          },
          y: {
            type: "linear",
            min: 6151.05,
            max: 6217.05,
            afterFit: (s: any) => { s.width = 81; },
            afterBuildTicks: (s: any) => { s.ticks = yTickValues.map((value) => ({ value })); },
            grid: { color: "#b0b0b0", lineWidth: 1, tickColor: "#000", tickLength: 5 },
            border: { color: "#000" },
            ticks: { color: "#000", autoSkip: false, padding: 6, font: { family: FONT, size: 13.9 }, callback: (v: any) => String(v) },
            title: { display: true, text: yLabel, color: "#000", font: { family: FONT, size: 13.9 }, padding: { top: 13.5, bottom: 0 } },
          },
        },
      },
      plugins: [frameAndLegend],
    } as any);
    return () => chart.destroy();
  }, []);
  return <canvas ref={ref} width={1000} height={1000} style={{ display: "block", width: 1000, height: 1000 }} />;
}
